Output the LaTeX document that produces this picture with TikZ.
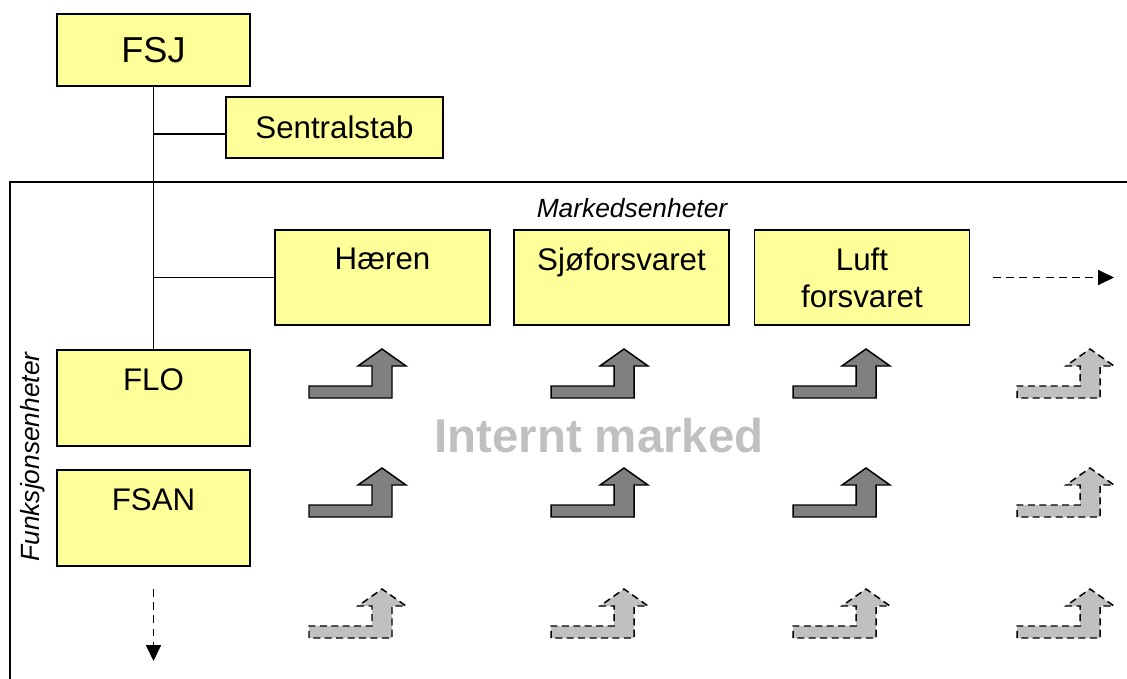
\documentclass[tikz,border=0pt]{standalone}
\usepackage{fontspec}
\setmainfont{Liberation Sans}
\usetikzlibrary{positioning, calc, arrows.meta}
\definecolor{boxYellow}{RGB}{255, 255, 153}
\definecolor{arrDark}{RGB}{128, 128, 128}
\definecolor{arrLight}{RGB}{192, 192, 192}
\definecolor{markGray}{RGB}{192, 192, 192}

% bent arrow, bottom-left corner at (#2,#3)
\newcommand{\bentup}[3]{%
  \draw[#1] (#2,#3) -- ++(0,-12) -- ++(63,0) -- ++(0,-20) -- ++(-14,0)
    -- ++(24,-17) -- ++(24,17) -- ++(-14,0) -- ++(0,32) -- cycle;}

\begin{document}
\begin{tikzpicture}[x=0.02cm, y=-0.02cm,
          box/.style={draw, fill=boxYellow, line width=1pt, inner sep=0pt,
                      align=center, font=\fontsize{17.8}{21}\selectfont},
          unitbox/.style={box, minimum width=4.3cm, minimum height=1.9cm},
          funcbox/.style={box, minimum width=3.86cm, minimum height=1.92cm},
          tag/.style={font=\fontsize{15}{18}\selectfont\itshape},
          bentdark/.style={fill=arrDark, draw=black, line width=0.85pt},
          bentlight/.style={fill=arrLight, draw=black, line width=0.85pt,
                            dash pattern=on 4pt off 2.5pt},
          more/.style={dashed, line width=0.8pt, dash pattern=on 4.5pt off 3pt,
                       -{Triangle[length=9pt, width=8.5pt]}}
        ]
        \useasboundingbox (0,0) rectangle (1127,679);

        % frame round the internal market
        \draw[line width=1pt] (10,679) -- (10,182) -- (1127,182);

        \node[box, minimum width=3.86cm, minimum height=1.44cm,
              font=\fontsize{20.5}{24}\selectfont] (fsj) at (153.5,50) {FSJ};
        \node[box, minimum width=4.34cm, minimum height=1.22cm]
              (sentral) at (334.5,127.5) {Sentralstab};

        \node[tag] (marked) at (632,208) {Markedsenheter};
        \node[unitbox] (haeren) at (382.5,277.5) {Hæren\\\mbox{}};
        \node[unitbox] (sjo)    at (621.5,277.5) {Sjøforsvaret\\\mbox{}};
        \node[unitbox] (luft)   at (862,277.5)   {Luft\\forsvaret};

        \node[funcbox] (flo)  at (153.5,398) {FLO\\\mbox{}};
        \node[funcbox] (fsan) at (153.5,518) {FSAN\\\mbox{}};
        \node[tag, rotate=90] (funk) at (33,457) {Funksjonsenheter};

        \node[font=\fontsize{27}{32}\selectfont\bfseries, text=markGray]
              (intern) at (599,436) {Internt marked};

        % tree lines
        \coordinate (j1) at (153.5,134);
        \draw[line width=1.1pt] (fsj.south) -- (flo.north);
        \draw[line width=1.1pt] (j1) -- (j1 -| sentral.west);
        \draw[line width=1.1pt] (haeren.west -| fsj.south) -- (haeren.west);

        % further units
        \coordinate (mR0) at (993,277.5);
        \coordinate (mR1) at (1114,277.5);
        \coordinate (mD0) at (153.5,589);
        \coordinate (mD1) at (153.5,661);
        \draw[more] (mR0) -- (mR1);
        \draw[more] (mD0) -- (mD1);

        % trade arrows
        \foreach \x in {309,551,793}
          \foreach \y in {398,517}
            {\bentup{bentdark}{\x}{\y}}
        \foreach \y in {398,517}
          {\bentup{bentlight}{1017}{\y}}
        \foreach \x in {309,551,793,1017}
          {\bentup{bentlight}{\x}{638}}
      \end{tikzpicture}
\end{document}
